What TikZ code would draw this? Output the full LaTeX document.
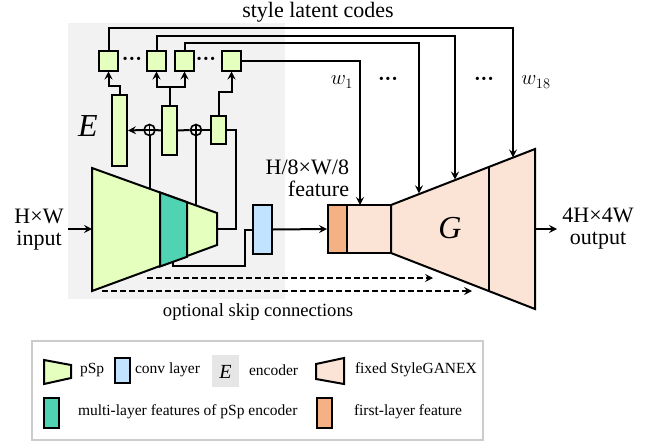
\documentclass[tikz,border=0pt]{standalone}
\usepackage{fontspec}
\setmainfont{Liberation Serif}
\usetikzlibrary{arrows.meta}
\definecolor{pgreen}{HTML}{E5FFBF}
\definecolor{pteal}{HTML}{4FD3B3}
\definecolor{pblue}{HTML}{C2E3FF}
\definecolor{ppeach}{HTML}{FBE4D6}
\definecolor{porange}{HTML}{F4B183}
\definecolor{pbg}{HTML}{F2F2F2}
\definecolor{pbgE}{HTML}{E6E6E6}
\definecolor{plegend}{HTML}{CCCCCC}
\begin{document}
\begin{tikzpicture}[x=1pt,y=-1pt,line width=2pt,
  arr/.style={-{Stealth[length=8pt,width=8pt,inset=3pt]}},
  blk/.style={draw,line width=2pt,inner sep=0pt},
  sq/.style={blk,fill=pgreen,minimum width=19pt,minimum height=19pt},
  encbar/.style={blk,fill=pgreen,minimum width=15pt,minimum height=#1},
  oplus/.style={draw,circle,line width=1.6pt,minimum size=11pt,inner sep=0pt},
  lab/.style={font=\fontsize{22}{22}\selectfont,align=center,inner sep=0pt},
  leg/.style={font=\fontsize{15.5}{18}\selectfont,anchor=west,inner sep=0pt},
  dotlab/.style={font=\fontsize{20}{20}\selectfont,inner sep=0pt},
  big/.style={font=\fontsize{32}{32}\selectfont\itshape,inner sep=0pt}
]
\useasboundingbox (0,0) rectangle (647,444);
% encoder background
\fill[pbg] (68,23) rectangle (285,299);
\node[big] (Elab) at (88,126) {E};
\node[lab] (title) at (318,12) {style latent codes};

% pSp trapezoid
\draw[fill=pgreen] (92,168) -- (217,213) -- (217,245) -- (92,291) -- cycle;
\draw[fill=pteal] (160,192.5) -- (187,202.2) -- (187,256.8) -- (160,266.5) -- cycle;
\coordinate (pspL) at (92,229);
\coordinate (pspR) at (217,229);
\coordinate (e1) at (149.5,188.7);
\coordinate (e2) at (196,205.4);
\coordinate (e3) at (173,262);

% bars and squares
\node[encbar=71pt] (b1) at (119.5,130.5) {};
\node[encbar=49pt] (b2) at (169.5,130.5) {};
\node[encbar=28pt] (b3) at (218.5,130) {};
\node[oplus] (p1) at (149.5,130) {};
\node[oplus] (p2) at (196,130) {};
\draw[line width=1.6pt] (p1.north) -- (p1.south) (p1.west) -- (p1.east);
\draw[line width=1.6pt] (p2.north) -- (p2.south) (p2.west) -- (p2.east);
\node[sq] (s1) at (108.5,61) {};
\node[sq] (s2) at (156.5,61) {};
\node[sq] (s3) at (184.5,61) {};
\node[sq] (s4) at (231.5,61) {};
\node[dotlab] (d1) at (132,61) {\bfseries ···};
\node[dotlab] (d2) at (206,61) {\bfseries ···};

% encoder connections
\draw (pspR) -- ++(19,0) |- (b3.east);
\draw (b3.west) -- (p2.east);
\draw (p2.west) -- (b2.east);
\draw (b2.west) -- (p1.east);
\draw[arr] (p1.west) -- (b1.east);
\draw (e1) -- (p1.south);
\draw (e2) -- (p2.south);
\draw[arr] (b1.north) -- ++(0,-8) -| (s1.south);
\draw[arr] (b2.north) -- ++(0,-18) -| (s2.south);
\draw[arr] (b2.north) -- ++(0,-18) -| (s3.south);
\draw[arr] (b3.north) -- ++(0,-23) -| (s4.south);

% conv layer
\node[blk,fill=pblue,minimum width=19pt,minimum height=49pt] (conv) at (262.5,229.5) {};
\draw (e3) |- (245,266) |- (conv.west);

% feature box and G
\node[blk,fill=porange,minimum width=19pt,minimum height=48pt] (featO) at (337.5,229) {};
\node[blk,fill=ppeach,minimum width=44pt,minimum height=48pt] (featL) at (369,229) {};
\draw[arr] (conv.east) -- (featO.west);
\draw[fill=ppeach] (391,205) -- (535,149) -- (535,309) -- (391,253) -- cycle;
\draw (489,166.9) -- (489,291.1);
\node[big] (Glab) at (450,228) {G};
\coordinate (g1) at (513,157.4);
\coordinate (g2) at (455,179.5);
\coordinate (g3) at (419,193.3);
\coordinate (f1) at (360,205);
\coordinate (gR) at (535,229);
\coordinate (outE) at (557,229);
\coordinate (inS) at (68,229);

\draw[arr] (s1.north) -- ++(0,-22) -| (g1);
\draw[arr] (s2.north) -- ++(0,-14) -| (g2);
\draw[arr] (s3.north) -- ++(0,-7) -| (g3);
\draw[arr] (s4.east) -| (f1);

\node[dotlab] (w1) at (342,82) {$w_1$};
\node[dotlab] (d3) at (388,81) {\bfseries ···};
\node[dotlab] (d4) at (484,81) {\bfseries ···};
\node[dotlab] (w18) at (536,82) {$w_{18}$};

% in / out
\draw[arr] (inS) -- (pspL);
\draw[arr] (gR) -- (outE);
\node[lab] (inlab) at (39,230) {H×W\\input};
\node[lab] (outlab) at (598,229) {4H×4W\\output};
\node[lab,anchor=east,align=right] (featlab) at (350,178) {H/8×W/8\\feature};

% skip connections
\coordinate (k1s) at (147,278);
\coordinate (k1e) at (433,278);
\coordinate (k2s) at (102,291);
\coordinate (k2e) at (472,291);
\draw[arr,dash pattern=on 6pt off 3pt] (k1s) -- (k1e);
\draw[arr,dash pattern=on 6pt off 3pt] (k2s) -- (k2e);
\node[font=\fontsize{18.6}{20}\selectfont,inner sep=0pt] (skip) at (258,312) {optional skip connections};

% legend
\draw[plegend,line width=1.5pt] (32,341) rectangle (483,440);
\draw[fill=pgreen] (44,360) -- (71,365) -- (71,378) -- (44,384) -- cycle;
\node[leg] (l1) at (79,370) {pSp};
\node[blk,fill=pblue,minimum width=15pt,minimum height=25pt] (lc) at (122.5,370.5) {};
\node[leg] (l2) at (134,370) {conv layer};
\fill[pbgE] (212,355) rectangle (239,387);
\node[font=\fontsize{20}{20}\selectfont\itshape,inner sep=0pt] (lE) at (225.5,372) {E};
\node[leg] (l3) at (248,370) {encoder};
\draw[fill=ppeach] (316,364) -- (344,358) -- (344,384) -- (316,379) -- cycle;
\node[leg] (l4) at (354,370) {fixed StyleGANEX};
\node[blk,fill=pteal,minimum width=15pt,minimum height=30pt] (lt) at (51.5,413) {};
\node[leg] (l5) at (77,412) {multi-layer features of pSp encoder};
\node[blk,fill=porange,minimum width=15pt,minimum height=30pt] (lo) at (324.5,413) {};
\node[leg] (l6) at (353,412) {first-layer feature};
\end{tikzpicture}
\end{document}
